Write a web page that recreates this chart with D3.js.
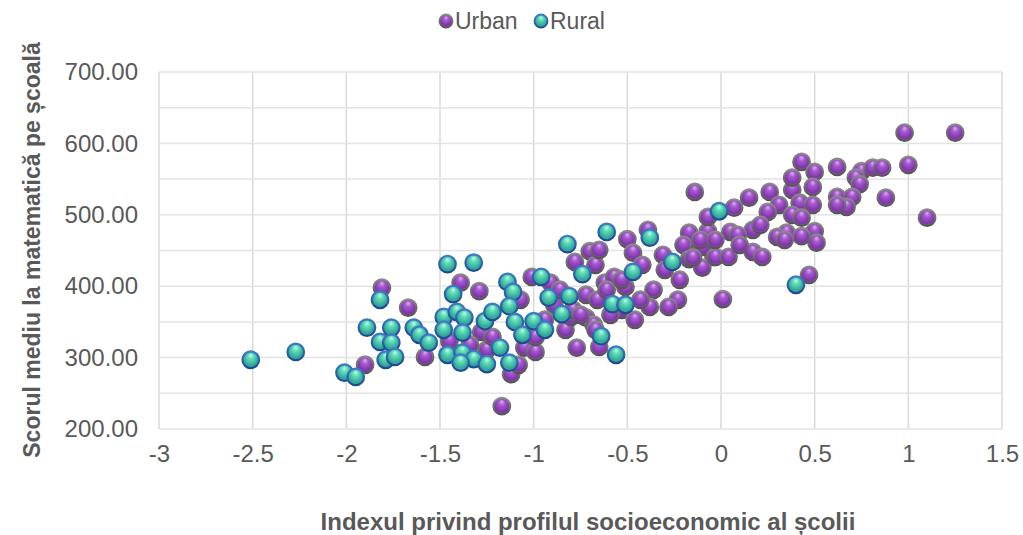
<!DOCTYPE html>
<html>
<head>
<meta charset="utf-8">
<script src="https://cdn.jsdelivr.net/npm/d3@7"></script>
<style>
  html, body { margin: 0; padding: 0; background: #ffffff; }
  svg { display: block; font-family: "Liberation Sans", Arial, sans-serif; }
</style>
</head>
<body>
<svg id="chart" width="1023" height="535"></svg>
<script>
// ---- Data ----
const seriesNames = ["Urban", "Rural"];
const xTicks = [-3, -2.5, -2, -1.5, -1, -0.5, 0, 0.5, 1, 1.5];
const yTicks = [200, 300, 400, 500, 600, 700];
const yGrid = [200, 250, 300, 350, 400, 450, 500, 550, 600, 650, 700];

const urbanX = [-1.90,-1.81,-1.67,-1.58,-1.45,-1.39,-1.29,-1.28,-1.25,-1.22,-1.17,-1.12,-1.08,-1.05,-0.99,-1.01,-0.91,-0.83,-0.99,-0.80,
  -0.79,-0.72,-0.68,-0.72,-0.66,-0.62,-0.70,-0.78,-0.67,-0.77,-0.65,-0.50,-0.39,-0.47,-0.42,-0.31,-0.17,-0.07,-0.20,-0.12,
  -0.04,-0.17,-0.10,-0.22,-0.36,-0.38,-0.23,-0.28,-0.57,-0.61,-0.51,0.01,-0.53,-0.65,-0.53,-0.14,-0.07,0.07,0.15,0.26,
  0.38,0.38,0.43,0.50,0.49,0.31,0.42,0.49,0.25,0.38,0.43,0.17,0.05,0.35,0.50,0.51,0.30,0.09,-0.10,-0.03,
  0.04,0.17,0.22,-0.15,0.47,0.98,1.25,0.62,0.75,0.81,0.86,1.00,0.72,0.74,0.62,0.70,0.67,0.62,0.88,1.10,
  0.43,0.34,-0.89,-0.94,-0.86,-0.11,-0.03,-0.30,-0.43,-1.07,-1.34,-0.46,-0.59,0.10,0.21,-0.67,-0.75];
const urbanY = [290,398,370,301,323,405,393,336,311,329,232,277,290,314,308,413,405,339,329,357,
  367,356,346,388,381,405,449,434,430,314,315,466,479,447,430,444,475,477,458,455,
  441,438,426,409,395,371,381,371,413,395,399,382,367,451,409,532,497,510,524,532,
  535,552,574,560,539,514,517,514,504,500,496,479,476,475,477,461,469,472,455,441,
  441,448,441,440,416,615,615,567,561,566,566,570,552,543,525,525,511,514,524,496,
  470,465,374,353,395,465,465,423,381,381,318,353,360,458,486,339,360];

const ruralX = [-2.51,-2.27,-2.01,-1.95,-1.89,-1.82,-1.82,-1.76,-1.76,-1.79,-1.74,-1.64,-1.61,-1.56,-1.48,-1.48,-1.46,-1.46,-1.43,-1.41,
  -1.37,-1.38,-1.38,-1.32,-1.39,-1.32,-1.26,-1.25,-1.22,-1.18,-1.14,-1.11,-1.13,-1.13,-1.10,-1.06,-1.00,-0.96,-0.94,-0.92,
  -0.85,-0.82,-0.81,-0.74,-0.64,-0.61,-0.58,-0.51,-0.56,-0.47,-0.38,-0.26,-0.01,0.40];
const ruralY = [297,308,279,273,342,381,322,342,321,297,301,342,332,321,357,339,304,431,389,364,
  356,335,307,298,293,433,351,291,364,314,406,392,372,293,350,332,351,413,339,384,
  361,459,386,417,330,476,375,374,304,420,468,434,505,402];

// ---- Layout ----
const svg = d3.select("#chart");
const x = d3.scaleLinear().domain([-3, 1.5]).range([159, 1002]);
const y = d3.scaleLinear().domain([200, 700]).range([429, 72]);
const textColor = "#595959";

// gradients
const defs = svg.append("defs");
function sphere(id, stops) {
  const g = defs.append("radialGradient").attr("id", id)
    .attr("cx", "50%").attr("cy", "45%").attr("r", "60%")
    .attr("fx", "50%").attr("fy", "22%");
  stops.forEach(s => g.append("stop").attr("offset", s[0]).attr("stop-color", s[1]));
}
sphere("gUrban", [["0%", "#dcb2ee"], ["30%", "#a65ad0"], ["75%", "#7e34a8"], ["100%", "#9a5cc0"]]);
sphere("gRural", [["0%", "#c4fbe8"], ["30%", "#5fdcb8"], ["75%", "#2fa898"], ["100%", "#48b8b0"]]);
function rim(id, c1, c2) {
  const g = defs.append("linearGradient").attr("id", id)
    .attr("x1", "0").attr("y1", "0").attr("x2", "0").attr("y2", "1");
  g.append("stop").attr("offset", "0%").attr("stop-color", c1);
  g.append("stop").attr("offset", "100%").attr("stop-color", c2);
}
rim("rUrban", "#8a8a8a", "#555555");
rim("rRural", "#3f78c8", "#1f4a90");

// gridlines
const grid = svg.append("g");
grid.selectAll("line.v").data(xTicks).join("line")
  .attr("x1", d => x(d)).attr("x2", d => x(d))
  .attr("y1", y(700)).attr("y2", y(200))
  .attr("stroke", "#d9d9d9").attr("stroke-width", 1.5);
grid.selectAll("line.h").data(yGrid).join("line")
  .attr("x1", x(-3)).attr("x2", x(1.5))
  .attr("y1", d => y(d)).attr("y2", d => y(d))
  .attr("stroke", "#e3e3e3").attr("stroke-width", 1.5);

// axes (labels only)
const fmtX = d => String(d);
const xAxis = svg.append("g").attr("transform", `translate(0,${y(200)})`)
  .call(d3.axisBottom(x).tickValues(xTicks).tickFormat(fmtX).tickSize(0).tickPadding(16));
xAxis.select(".domain").remove();
xAxis.selectAll("text").attr("fill", textColor).attr("font-size", 24)
  .attr("font-family", "Liberation Sans, Arial, sans-serif");

const yAxis = svg.append("g").attr("transform", `translate(${x(-3)},0)`)
  .call(d3.axisLeft(y).tickValues(yTicks).tickFormat(d3.format(".2f")).tickSize(0).tickPadding(21));
yAxis.select(".domain").remove();
yAxis.selectAll("text").attr("fill", textColor).attr("font-size", 24)
  .attr("font-family", "Liberation Sans, Arial, sans-serif");

// points
const urban = urbanX.map((v, i) => ({ x: v, y: urbanY[i] }));
const rural = ruralX.map((v, i) => ({ x: v, y: ruralY[i] }));
const R = 8.3;
svg.append("g").selectAll("circle").data(urban).join("circle")
  .attr("cx", d => x(d.x)).attr("cy", d => y(d.y)).attr("r", R)
  .attr("fill", "url(#gUrban)").attr("stroke", "url(#rUrban)").attr("stroke-width", 2.2);
svg.append("g").selectAll("circle").data(rural).join("circle")
  .attr("cx", d => x(d.x)).attr("cy", d => y(d.y)).attr("r", R)
  .attr("fill", "url(#gRural)").attr("stroke", "url(#rRural)").attr("stroke-width", 2.2);

// axis titles
svg.append("text").attr("x", 588).attr("y", 530).attr("text-anchor", "middle")
  .attr("font-size", 24).attr("font-weight", "bold").attr("fill", textColor)
  .text("Indexul privind profilul socioeconomic al școlii");
svg.append("text").attr("transform", "translate(40,250) rotate(-90)").attr("text-anchor", "middle")
  .attr("font-size", 23).attr("font-weight", "bold").attr("fill", textColor)
  .text("Scorul mediu la matematică pe școală");

// legend
const legend = svg.append("g");
const legItems = [{ name: seriesNames[0], cx: 446, fill: "url(#gUrban)", stroke: "url(#rUrban)" },
                  { name: seriesNames[1], cx: 541, fill: "url(#gRural)", stroke: "url(#rRural)" }];
legItems.forEach(it => {
  legend.append("circle").attr("cx", it.cx).attr("cy", 21).attr("r", 6.5)
    .attr("fill", it.fill).attr("stroke", it.stroke).attr("stroke-width", 1.8);
  legend.append("text").attr("x", it.cx + 9).attr("y", 29)
    .attr("font-size", 23).attr("fill", textColor).text(it.name);
});
</script>
</body>
</html>
